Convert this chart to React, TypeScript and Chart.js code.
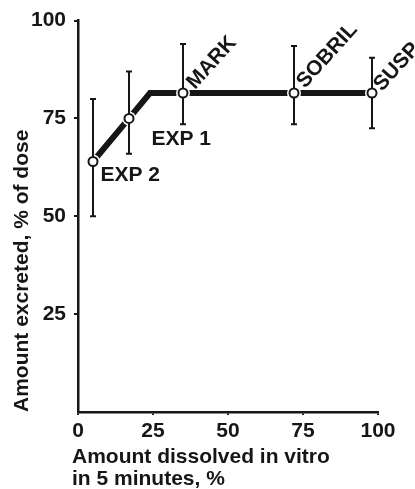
import React, { useEffect, useRef } from 'react';
import { Chart, registerables } from 'chart.js';

Chart.register(...registerables);

// ---- data ----
const formulations = ['EXP 2', 'EXP 1', 'MARK', 'SOBRIL', 'SUSP'];
const dissolvedIn5Min = [5, 17, 35, 72, 98];
const excretedMean = [64, 75, 81.5, 81.5, 81.5];
const excretedLow = [50, 66, 73.5, 73.5, 72.5];
const excretedHigh = [80, 87, 94, 93.5, 90.5];
// fitted relationship (rise, then plateau)
const fitX = [5, 17, 24, 35, 72, 98];
const fitY = [64, 75, 81.5, 81.5, 81.5, 81.5];
const xTicks = [0, 25, 50, 75, 100];
const yTicks = [25, 50, 75, 100];
const xTitle = ['Amount dissolved in vitro', 'in 5 minutes, %'];
const yTitle = 'Amount excreted, % of dose';

const INK = '#161616';
const FONT_FAMILY = '"Liberation Sans", Arial, sans-serif';
const DIAG = (-48 * Math.PI) / 180;
const LABEL_PLACEMENT = [
  { dx: 7.5, dy: 19.5, rot: 0 },
  { dx: 22.5, dy: 27, rot: 0 },
  { dx: 12, dy: -3, rot: DIAG },
  { dx: 11, dy: -4, rot: DIAG },
  { dx: 10, dy: -1, rot: DIAG },
];

const errorBarPlugin = {
  id: 'errorBars',
  afterDatasetDraw(chart: any, args: any) {
    if (args.index !== 1) return;
    const { ctx, scales } = chart;
    const x = scales.x;
    const y = scales.y;
    ctx.save();
    ctx.strokeStyle = INK;
    ctx.lineWidth = 2;
    ctx.lineCap = 'butt';
    dissolvedIn5Min.forEach((v, i) => {
      const px = x.getPixelForValue(v);
      const top = y.getPixelForValue(excretedHigh[i]);
      const bot = y.getPixelForValue(excretedLow[i]);
      ctx.beginPath();
      ctx.moveTo(px, top);
      ctx.lineTo(px, bot);
      ctx.moveTo(px - 3, top);
      ctx.lineTo(px + 3, top);
      ctx.moveTo(px - 3, bot);
      ctx.lineTo(px + 3, bot);
      ctx.stroke();
    });
    ctx.restore();
  },
};

const textPlugin = {
  id: 'texts',
  afterDraw(chart: any) {
    const { ctx, scales, chartArea } = chart;
    const x = scales.x;
    const y = scales.y;
    ctx.save();
    ctx.fillStyle = INK;
    ctx.font = `bold 21px ${FONT_FAMILY}`;
    ctx.textAlign = 'left';
    ctx.textBaseline = 'alphabetic';
    formulations.forEach((name, i) => {
      const px = x.getPixelForValue(dissolvedIn5Min[i]);
      const py = y.getPixelForValue(excretedMean[i]);
      const p = LABEL_PLACEMENT[i];
      ctx.save();
      ctx.translate(px + p.dx, py + p.dy);
      ctx.rotate(p.rot);
      ctx.fillText(name, 0, 0);
      ctx.restore();
    });
    xTitle.forEach((line, i) => {
      ctx.fillText(line, chartArea.left - 6, chartArea.bottom + 51 + i * 22);
    });
    ctx.restore();
  },
};

export default function App() {
  const ref = useRef<HTMLCanvasElement | null>(null);

  useEffect(() => {
    document.body.style.margin = '0';
    const canvas = ref.current;
    if (!canvas) return;
    const tickFont = { family: FONT_FAMILY, size: 21, weight: 'bold' as const };
    const chart = new Chart(canvas, {
      type: 'scatter',
      data: {
        datasets: [
          {
            type: 'line',
            data: fitX.map((v, i) => ({ x: v, y: fitY[i] })),
            borderColor: INK,
            borderWidth: 6,
            pointRadius: 0,
            fill: false,
            tension: 0,
            borderJoinStyle: 'miter',
            order: 3,
          },
          {
            data: dissolvedIn5Min.map((v, i) => ({ x: v, y: excretedMean[i] })),
            backgroundColor: '#ffffff',
            borderWidth: 0,
            pointRadius: 7,
            order: 2,
          },
          {
            data: dissolvedIn5Min.map((v, i) => ({ x: v, y: excretedMean[i] })),
            backgroundColor: '#ffffff',
            borderColor: INK,
            borderWidth: 2,
            pointRadius: 4.5,
            order: 1,
          },
        ],
      } as any,
      options: {
        animation: false,
        responsive: false,
        maintainAspectRatio: false,
        layout: { padding: { top: 20, right: 37, bottom: 0, left: 0 } },
        plugins: { legend: { display: false }, tooltip: { enabled: false } },
        scales: {
          x: {
            type: 'linear',
            min: 0,
            max: 100,
            afterBuildTicks: (s: any) => {
              s.ticks = xTicks.map((v) => ({ value: v }));
            },
            afterFit: (s: any) => {
              s.height = 77;
            },
            ticks: { color: INK, font: tickFont, padding: 4, maxRotation: 0 },
            grid: { display: true, drawOnChartArea: false, drawTicks: true, tickLength: 3, color: INK, lineWidth: 2 },
            border: { display: true, color: INK, width: 2.5 },
          },
          y: {
            type: 'linear',
            min: 0,
            max: 100,
            afterBuildTicks: (s: any) => {
              s.ticks = yTicks.map((v) => ({ value: v }));
            },
            afterFit: (s: any) => {
              s.width = 78;
            },
            ticks: { color: INK, font: tickFont, padding: 8 },
            grid: { display: true, drawOnChartArea: false, drawTicks: true, tickLength: 4, color: INK, lineWidth: 2 },
            border: { display: true, color: INK, width: 2.5 },
            title: {
              display: true,
              text: yTitle,
              align: 'start',
              color: INK,
              font: { family: FONT_FAMILY, size: 21, weight: 'bold' },
              padding: { top: 10, bottom: 0 },
            },
          },
        },
      } as any,
      plugins: [errorBarPlugin, textPlugin],
    });
    return () => chart.destroy();
  }, []);

  return <canvas ref={ref} width={415} height={489} style={{ display: 'block', width: 415, height: 489 }} />;
}
